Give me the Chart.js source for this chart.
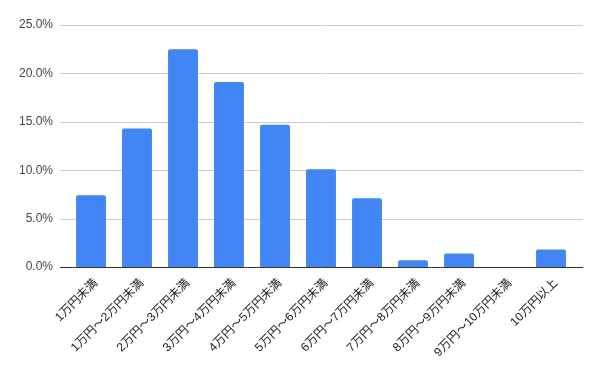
<!DOCTYPE html>
<html>
<head>
<meta charset="utf-8">
<script src="https://cdn.jsdelivr.net/npm/chart.js@4"></script>
<style>
html,body{margin:0;padding:0;background:#fff;}
#wrap{width:600px;height:371px;position:relative;}
</style>
</head>
<body>
<div id="wrap"><canvas id="c" width="600" height="371"></canvas></div>
<script>
const categories = ["1万円未満","1万円～2万円未満","2万円～3万円未満","3万円～4万円未満","4万円～5万円未満","5万円～6万円未満","6万円～7万円未満","7万円～8万円未満","8万円～9万円未満","9万円～10万円未満","10万円以上"];
const shares = [7.4, 14.3, 22.5, 19.1, 14.7, 10.1, 7.1, 0.7, 1.4, 0.0, 1.8];
const yTicks = [0, 5, 10, 15, 20, 25];

const FONT = "'Liberation Sans', Arial, 'Noto Sans CJK JP', sans-serif";

const gridPlugin = {
  id: 'extGrid',
  beforeDatasetsDraw(chart) {
    const ctx = chart.ctx, y = chart.scales.y;
    ctx.save();
    ctx.strokeStyle = '#cccccc';
    ctx.lineWidth = 1;
    yTicks.forEach(v => {
      if (v === 0) return;
      const py = Math.round(y.getPixelForValue(v)) + 0.5;
      ctx.beginPath(); ctx.moveTo(60, py); ctx.lineTo(583, py); ctx.stroke();
    });
    ctx.restore();
  },
  afterDatasetsDraw(chart) {
    const ctx = chart.ctx, y = chart.scales.y;
    ctx.save();
    ctx.strokeStyle = '#333333';
    ctx.lineWidth = 1;
    const py = Math.round(y.getPixelForValue(0)) + 0.5;
    ctx.beginPath(); ctx.moveTo(60, py); ctx.lineTo(583, py); ctx.stroke();
    ctx.restore();
  }
};

new Chart(document.getElementById('c'), {
  type: 'bar',
  data: {
    labels: categories,
    datasets: [{
      data: shares,
      backgroundColor: '#4285f4',
      borderRadius: {topLeft: 2, topRight: 2, bottomLeft: 0, bottomRight: 0},
      borderSkipped: 'bottom',
      barPercentage: 0.65,
      categoryPercentage: 1.0
    }]
  },
  options: {
    responsive: false,
    animation: false,
    layout: { padding: { top: 25, right: 26, left: 0, bottom: 0 } },
    plugins: { legend: { display: false }, tooltip: { enabled: false } },
    scales: {
      x: {
        grid: { display: false, drawTicks: false },
        border: { display: false },
        ticks: {
          autoSkip: false,
          minRotation: 45, maxRotation: 45,
          padding: 9,
          labelOffset: 5,
          color: '#222222',
          font: { family: FONT, size: 12 }
        },
        afterFit(scale) { scale.height = 104; }
      },
      y: {
        min: 0, max: 25,
        afterBuildTicks(scale) { scale.ticks = yTicks.map(v => ({ value: v })); },
        grid: { display: false, drawTicks: false },
        border: { display: false },
        ticks: {
          padding: 15,
          color: '#444444',
          font: { family: FONT, size: 12 },
          callback: v => Number(v).toFixed(1) + '%'
        },
        afterFit(scale) { scale.width = 68; }
      }
    }
  },
  plugins: [gridPlugin]
});
</script>
</body>
</html>
